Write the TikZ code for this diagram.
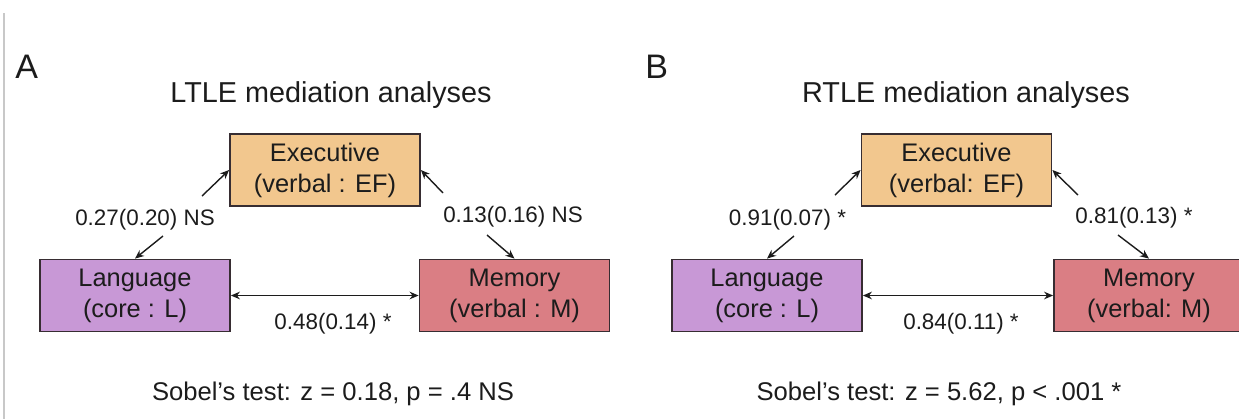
\documentclass[tikz,border=0pt]{standalone}
\usepackage{fontspec}
\setmainfont{Liberation Sans}
\usetikzlibrary{arrows.meta}

\definecolor{execfill}{RGB}{242,199,142}
\definecolor{langfill}{RGB}{200,152,214}
\definecolor{memfill}{RGB}{218,126,132}
\definecolor{boxline}{RGB}{55,45,50}
\definecolor{inkcol}{RGB}{28,28,28}
\definecolor{framegray}{RGB}{200,200,200}

\tikzset{
  box/.style={draw=boxline, line width=0.9pt, minimum width=95pt, minimum height=36pt,
    inner sep=0pt, align=center, text=inkcol, font=\fontsize{12.7}{15.5}\selectfont},
  coef/.style={anchor=base, inner sep=0pt, text=inkcol, font=\fontsize{11.2}{13}\selectfont},
  heading/.style={anchor=base, inner sep=0pt, text=inkcol, font=\fontsize{14.4}{17}\selectfont},
  tag/.style={anchor=base west, inner sep=0pt, text=inkcol, font=\fontsize{17}{20}\selectfont},
  sobel/.style={anchor=base, inner sep=0pt, text=inkcol, font=\fontsize{12.8}{15}\selectfont},
  arr/.style={draw=inkcol, line width=0.7pt, -{Stealth[length=4.5pt,width=3.8pt]}},
  dblarr/.style={draw=inkcol, line width=0.7pt, {Stealth[length=4.5pt,width=3.8pt]}-{Stealth[length=4.5pt,width=3.8pt]}}
}

\begin{document}
\begin{tikzpicture}[x=0.5pt,y=-0.5pt]
\useasboundingbox (0,0) rectangle (1239,419);
\clip (0,0) rectangle (1239,419);
\draw[framegray, line width=0.8pt] (4,13) -- (4,419);

% panel A
\node[tag] (tagA) at (15,78) {A};
\node[heading] (titleA) at (331,102) {LTLE mediation analyses};
\node[box, fill=execfill] (execA) at (325,170) {Executive\\(verbal : EF)};
\node[box, fill=langfill] (langA) at (135,295.5) {Language\\(core : L)};
\node[box, fill=memfill] (memA) at (514.5,295.5) {Memory\\(verbal : M)};
\node[coef] (leA) at (145,225) {0.27(0.20) NS};
\node[coef] (meA) at (513,222) {0.13(0.16) NS};
\node[coef] (lmA) at (333,329) {0.48(0.14) *};
\node[sobel] (sobelA) at (333,400) {Sobel’s test: z = 0.18, p = .4 NS};
\coordinate (leA1) at (202,196);
\coordinate (leA2) at (163,236);
\coordinate (meA1) at (443,193);
\coordinate (meA2) at (487,235);
\draw[arr] (leA1) -- (execA.west);
\draw[arr] (leA2) -- (langA.north);
\draw[arr] (meA1) -- (execA.east);
\draw[arr] (meA2) -- (memA.north);
\draw[dblarr] (langA.east) -- (memA.west);

% panel B
\node[tag] (tagB) at (645,78) {B};
\node[heading] (titleB) at (966,102) {RTLE mediation analyses};
\node[box, fill=execfill] (execB) at (956.5,170) {Executive\\(verbal: EF)};
\node[box, fill=langfill] (langB) at (767,295.5) {Language\\(core : L)};
\node[box, fill=memfill] (memB) at (1149,295.5) {Memory\\(verbal: M)};
\node[coef] (leB) at (787.5,225) {0.91(0.07) *};
\node[coef] (meB) at (1134,223) {0.81(0.13) *};
\node[coef] (lmB) at (961,329) {0.84(0.11) *};
\node[sobel] (sobelB) at (939,400) {Sobel’s test: z = 5.62, p < .001 *};
\coordinate (leB1) at (835,195);
\coordinate (leB2) at (794,236);
\coordinate (meB1) at (1078,195);
\coordinate (meB2) at (1118,235);
\draw[arr] (leB1) -- (execB.west);
\draw[arr] (leB2) -- (langB.north);
\draw[arr] (meB1) -- (execB.east);
\draw[arr] (meB2) -- (memB.north);
\draw[dblarr] (langB.east) -- (memB.west);
\end{tikzpicture}
\end{document}
